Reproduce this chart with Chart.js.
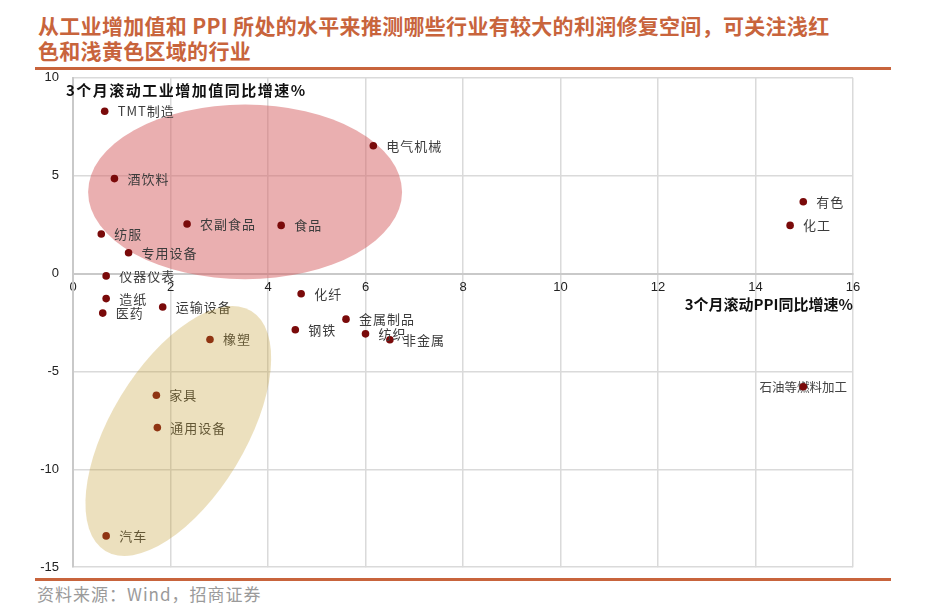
<!DOCTYPE html>
<html>
<head>
<meta charset="utf-8">
<script src="https://cdn.jsdelivr.net/npm/chart.js@4.4.1/dist/chart.umd.min.js"></script>
<style>
html,body{margin:0;padding:0;background:#fff;width:936px;height:615px;overflow:hidden;position:relative;font-family:"Noto Sans CJK SC",sans-serif;}
#title{position:absolute;left:38px;top:13px;font-size:21px;line-height:25px;font-weight:700;letter-spacing:0.3px;color:#C8643C;white-space:nowrap;}
#topline{position:absolute;left:35px;top:67px;width:856px;height:3px;background:#C8643C;}
#bottomline{position:absolute;left:35px;top:578px;width:856px;height:3px;background:#C8643C;}
#source{position:absolute;left:37px;top:582px;font-size:17px;line-height:24px;letter-spacing:1px;color:#9a9a9a;}
#wrap{position:absolute;left:0;top:56px;width:936px;height:533px;}
</style>
</head>
<body>
<div id="title">从工业增加值和 PPI 所处的水平来推测哪些行业有较大的利润修复空间，可关注浅红<br>色和浅黄色区域的行业</div>
<div id="topline"></div>
<div id="bottomline"></div>
<div id="source">资料来源：Wind，招商证券</div>
<div id="wrap"><canvas id="c"></canvas></div>
<script>
// ---- data ----
const industries = ['TMT制造','电气机械','酒饮料','农副食品','食品','纺服','专用设备','仪器仪表','化纤','造纸','运输设备','医药','金属制品','钢铁','纺织','非金属','橡塑','家具','通用设备','汽车','有色','化工','石油等燃料加工'];
const ppiGrowth = [0.65,6.16,0.85,2.34,4.27,0.58,1.14,0.68,4.68,0.68,1.84,0.61,5.60,4.56,6.00,6.50,2.81,1.71,1.73,0.68,14.98,14.71,14.98];
const ivaGrowth = [8.29,6.53,4.85,2.53,2.46,2.02,1.06,-0.12,-1.03,-1.28,-1.71,-2.02,-2.33,-2.87,-3.08,-3.38,-3.37,-6.22,-7.87,-13.40,3.67,2.46,-5.78];
const xAxisTitle = '3个月滚动PPI同比增速%';
const yAxisTitle = '3个月滚动工业增加值同比增速%';
const centeredLabel = '石油等燃料加工';

// highlight regions (data coordinates)
const redRegion = {cx:3.53, cy:4.17, rx:3.22, ry:4.46};
const yellowRegion = {cx:2.16, cy:-8.04, a:2.88, b:1.38, angleDeg:58.7};

const points = ppiGrowth.map((x,i)=>({x:x, y:ivaGrowth[i]}));

const regionPlugin = {
  id:'regions',
  beforeDatasetsDraw(chart){
    const {ctx, scales:{x, y}, chartArea} = chart;
    const ux = Math.abs(x.getPixelForValue(1)-x.getPixelForValue(0));
    const uy = Math.abs(y.getPixelForValue(1)-y.getPixelForValue(0));
    ctx.save();
    ctx.beginPath();
    ctx.rect(chartArea.left, chartArea.top, chartArea.width, chartArea.height);
    ctx.clip();
    ctx.fillStyle = 'rgba(214,96,98,0.5)';
    ctx.beginPath();
    ctx.ellipse(x.getPixelForValue(redRegion.cx), y.getPixelForValue(redRegion.cy), redRegion.rx*ux, redRegion.ry*uy, 0, 0, Math.PI*2);
    ctx.fill();
    ctx.restore();
    // centered label drawn under its point
    const meta = chart.getDatasetMeta(0);
    ctx.save();
    ctx.font = '12.5px "Noto Sans CJK SC"';
    ctx.fillStyle = '#444';
    ctx.textBaseline = 'middle';
    ctx.textAlign = 'center';
    meta.data.forEach((pt,i)=>{
      if (industries[i]===centeredLabel) ctx.fillText(industries[i], pt.x, pt.y+1);
    });
    ctx.restore();
  },
  afterDatasetsDraw(chart){
    const {ctx, scales:{x, y}} = chart;
    const meta = chart.getDatasetMeta(0);
    ctx.save();
    ctx.font = '13px "Noto Sans CJK SC"';
    ctx.letterSpacing = '1px';
    ctx.fillStyle = '#3c3c3c';
    ctx.textBaseline = 'middle';
    ctx.textAlign = 'left';
    meta.data.forEach((pt,i)=>{
      if (industries[i]!==centeredLabel) ctx.fillText(industries[i], pt.x+13, pt.y);
    });
    ctx.restore();
    // yellow region over points
    const ux = Math.abs(x.getPixelForValue(1)-x.getPixelForValue(0));
    ctx.save();
    ctx.translate(x.getPixelForValue(yellowRegion.cx), y.getPixelForValue(yellowRegion.cy));
    ctx.rotate(-yellowRegion.angleDeg*Math.PI/180);
    ctx.fillStyle = 'rgba(193,152,40,0.3)';
    ctx.beginPath();
    ctx.ellipse(0, 0, yellowRegion.a*ux, yellowRegion.b*ux, 0, 0, Math.PI*2);
    ctx.fill();
    ctx.restore();
  },
  afterDraw(chart){
    const {ctx, chartArea} = chart;
    ctx.save();
    ctx.font = 'bold 15px "Noto Sans CJK SC"';
    ctx.letterSpacing = '1.5px';
    ctx.fillStyle = '#111';
    ctx.textBaseline = 'middle';
    ctx.textAlign = 'left';
    ctx.fillText(yAxisTitle, chartArea.left-7, chartArea.top+12);
    ctx.restore();
  }
};

new Chart(document.getElementById('c'), {
  type:'scatter',
  data:{datasets:[{
    data: points,
    backgroundColor:'#7A0A0A',
    borderColor:'#7A0A0A',
    pointRadius:3.8,
    pointHoverRadius:3.8,
    borderWidth:0
  }]},
  options:{
    responsive:true,
    maintainAspectRatio:false,
    animation:false,
    events:[],
    layout:{padding:{left:0, right:83, top:8, bottom:0}},
    plugins:{legend:{display:false}, tooltip:{enabled:false}},
    scales:{
      x:{
        type:'linear', min:0, max:16,
        position:{y:0},
        ticks:{stepSize:2, padding:6, color:'#222', font:{family:'"Liberation Sans", Arial', size:13}, maxRotation:0},
        grid:{color:'#dadada', lineWidth:1.5, drawTicks:false},
        border:{color:'#c9c9c9', width:2},
        title:{display:true, text:xAxisTitle, align:'end', color:'#111', font:{family:'"Noto Sans CJK SC"', size:15, weight:'bold'}, padding:0},
        afterFit(s){ s.height = 40; }
      },
      y:{
        type:'linear', min:-15, max:10,
        ticks:{stepSize:5, padding:14, color:'#222', font:{family:'"Liberation Sans", Arial', size:13}},
        grid:{color:'#dadada', lineWidth:1.5, drawTicks:false},
        border:{color:'#c9c9c9', width:2},
        afterFit(s){ s.width = 73; }
      }
    }
  },
  plugins:[regionPlugin]
});
</script>
</body>
</html>
